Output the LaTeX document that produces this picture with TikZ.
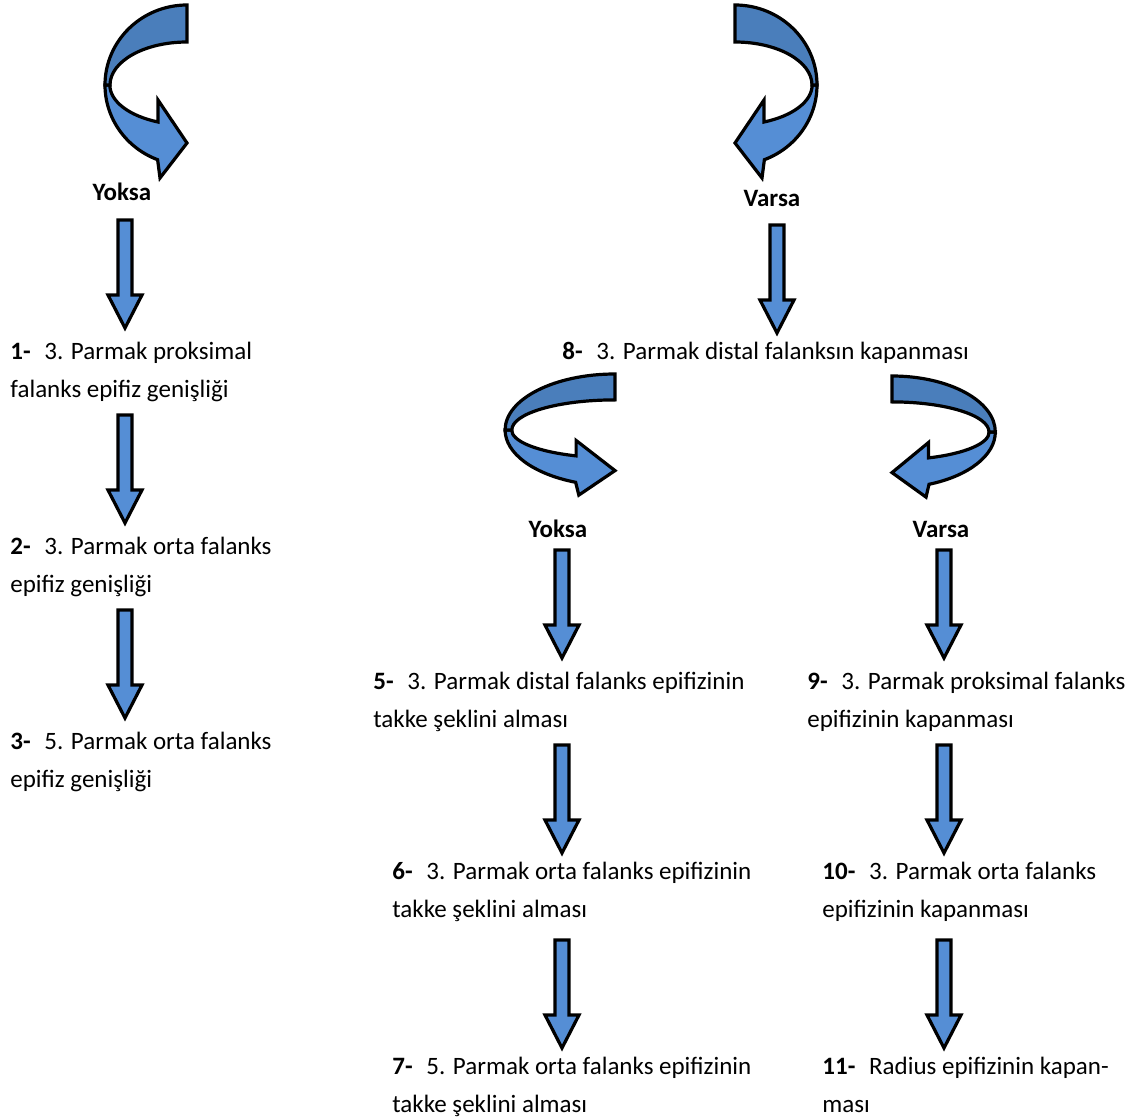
\documentclass[tikz,border=0pt]{standalone}
\usepackage{fontspec}
\setmainfont{Carlito}
\definecolor{lightblue}{RGB}{85,142,213}
\definecolor{darkblue}{RGB}{74,126,187}
\newcommand{\stepno}[1]{\textbf{#1}\hspace{0.55em}}
\tikzset{
  arrowline/.style={draw=black, line width=1.6pt},
  downarrow/.pic={
    \draw[arrowline, fill=lightblue] (-7,0) -- (7,0) -- (7,-75) -- (17,-75)
      -- (0,-108) -- (-17,-75) -- (-7,-75) -- cycle;
  },
  curvearrow/.pic={
    \draw[arrowline, fill=lightblue] (-82,0)
      arc[start angle=180, end angle=249, x radius=82, y radius=80]
      -- (-27,-93) -- (0,-58) -- (-29,-15) -- (-29,-37)
      arc[start angle=248, end angle=180, x radius=77, y radius=40] -- cycle;
    \draw[arrowline, fill=darkblue] (0,80)
      arc[start angle=90, end angle=180, x radius=82, y radius=80] -- (-77,0)
      arc[start angle=180, end angle=90, x radius=77, y radius=43] -- cycle;
  }
}

\begin{document}
\begin{tikzpicture}[x=0.5pt, y=0.5pt,
    font=\fontsize{12.5}{19}\selectfont,
    steptext/.style={anchor=base west, align=left, inner sep=0pt},
    choice/.style={anchor=base, inner sep=0pt}
    ]
    \useasboundingbox (0,0) rectangle (1147,-1119);

    % upper branches
    \pic at (187,-85) {curvearrow};
    \pic[xscale=-1] at (735,-85) {curvearrow};
    \node[choice] (yoksa1) at (122,-200) {\textbf{Yoksa}};
    \node[choice] (varsa1) at (772,-206) {\textbf{Varsa}};

    % left column (base = last line)
    \pic at (125,-220) {downarrow};
    \node[steptext] (s1) at (10,-397) {\stepno{1-}3. Parmak proksimal\\falanks epifiz genişliği};
    \pic at (125,-415) {downarrow};
    \node[steptext] (s2) at (10,-592) {\stepno{2-}3. Parmak orta falanks\\epifiz genişliği};
    \pic at (125,-610) {downarrow};
    \node[steptext] (s3) at (10,-787) {\stepno{3-}5. Parmak orta falanks\\epifiz genişliği};

    % right part
    \pic at (777,-225) {downarrow};
    \node[steptext] (s8) at (562,-359) {\stepno{8-}3. Parmak distal falanksın kapanması};
    \pic[xscale=1.34, yscale=0.7] at (615,-430) {curvearrow};
    \pic[xscale=-1.26, yscale=0.7] at (892,-432) {curvearrow};
    \node[choice] (yoksa2) at (558,-537) {\textbf{Yoksa}};
    \node[choice] (varsa2) at (941,-537) {\textbf{Varsa}};

    % middle column
    \pic at (562,-550) {downarrow};
    \node[steptext] (s5) at (373,-727) {\stepno{5-}3. Parmak distal falanks epifizinin\\takke şeklini alması};
    \pic at (562,-745) {downarrow};
    \node[steptext] (s6) at (392,-917) {\stepno{6-}3. Parmak orta falanks epifizinin\\takke şeklini alması};
    \pic at (562,-940) {downarrow};
    \node[steptext] (s7) at (392,-1112) {\stepno{7-}5. Parmak orta falanks epifizinin\\takke şeklini alması};

    % right column
    \pic at (944,-550) {downarrow};
    \node[steptext] (s9) at (807,-727) {\stepno{9-}3. Parmak proksimal falanks\\epifizinin kapanması};
    \pic at (944,-745) {downarrow};
    \node[steptext] (s10) at (822,-917) {\stepno{10-}3. Parmak orta falanks\\epifizinin kapanması};
    \pic at (944,-940) {downarrow};
    \node[steptext] (s11) at (822,-1112) {\stepno{11-}Radius epifizinin kapan-\\ması};

\end{tikzpicture}
\end{document}
